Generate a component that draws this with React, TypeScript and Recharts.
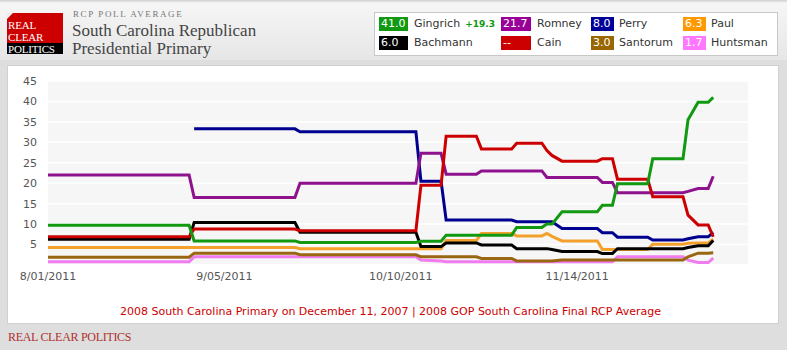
import { LineChart, Line, XAxis, YAxis, CartesianGrid } from 'recharts';

// days since 8/01/2011
const days = [0, 28, 29, 49, 50, 73, 74, 78, 79, 85, 86, 92, 93, 98, 99, 100, 102, 109, 110, 112, 113, 119, 120, 126, 127, 129, 131, 132];

const gingrich = [9.7, 9.7, 5.9, 5.9, 5.5, 5.5, 5.8, 5.8, 7.3, 7.3, 7.3, 7.3, 9.2, 9.2, 10, 10, 13, 13, 14.6, 14.6, 19.9, 19.9, 26, 26, 35.5, 39.8, 39.8, 41];
const romney = [22, 22, 16.5, 16.5, 20, 20, 27.3, 27.3, 22.2, 22.2, 23, 23, 23, 23, 21.4, 21.4, 21.4, 21.4, 20.2, 20.2, 17.7, 17.7, 17.7, 17.7, 18, 18.7, 18.7, 21.7];
const perry = [null, null, 33.3, 33.3, 32.6, 32.6, 20.5, 20.5, 11, 11, 11, 11, 10.6, 10.6, 10.6, 10.6, 8.9, 8.9, 7.9, 7.9, 6.8, 6.8, 6.1, 6.1, 6.4, 6.9, 6.9, 8.0];
const paul = [4.3, 4.3, 4.3, 4.3, 4.0, 4.0, 4.0, 4.0, 6.0, 6.0, 7.7, 7.7, 7.1, 7.1, 7.7, 7.0, 5.9, 5.9, 3.8, 3.8, 3.8, 3.8, 5.1, 5.1, 5.3, 5.4, 5.4, 6.3];
const bachmann = [6.3, 6.3, 10.4, 10.4, 8.0, 8.0, 4.5, 4.5, 5.4, 5.4, 4.9, 4.9, 4.0, 4.0, 4.0, 3.8, 3.3, 3.3, 2.8, 2.8, 4.0, 4.0, 4.0, 4.0, 4.3, 4.7, 4.7, 6.0];
const cain = [6.9, 6.9, 8.8, 8.8, 8.4, 8.4, 19.5, 19.5, 31.5, 31.5, 28.4, 28.4, 29.8, 29.8, 28, 26.8, 25.4, 25.4, 26, 26, 21, 21, 16.7, 16.7, 12.2, 9.8, 9.8, 6.9];
const santorum = [1.9, 1.9, 2.9, 2.9, 2.5, 2.5, 2.0, 2.0, 2.0, 2.0, 1.6, 1.6, 1.0, 1.0, 1.0, 1.0, 1.2, 1.2, 1.2, 1.2, 1.2, 1.2, 1.2, 1.2, 2.0, 2.9, 2.9, 3.0];
const huntsman = [0.8, 0.8, 2.0, 2.0, 2.0, 2.0, 1.2, 1.0, 0.8, 0.8, 0.8, 0.8, 0.8, 0.8, 0.8, 0.8, 0.8, 0.8, 0.8, 0.8, 2.0, 2.0, 2.0, 2.0, 1.2, 0.6, 0.6, 1.7];

const xTicks = [0, 35, 70, 105];
const xLabels = ['8/01/2011', '9/05/2011', '10/10/2011', '11/14/2011'];
const yTicks = [5, 10, 15, 20, 25, 30, 35, 40, 45];

const legendRow1 = [
  { name: 'Gingrich', value: '41.0', color: '#119911', extra: '+19.3' },
  { name: 'Romney', value: '21.7', color: '#990099' },
  { name: 'Perry', value: '8.0', color: '#000099' },
  { name: 'Paul', value: '6.3', color: '#ff9900' },
];
const legendRow2 = [
  { name: 'Bachmann', value: '6.0', color: '#000000' },
  { name: 'Cain', value: '--', color: '#cc0000' },
  { name: 'Santorum', value: '3.0', color: '#996600' },
  { name: 'Huntsman', value: '1.7', color: '#ff77ff' },
];

const series = [
  { key: 'huntsman', color: '#f07cf0' },
  { key: 'santorum', color: '#996611' },
  { key: 'paul', color: '#f3a12c' },
  { key: 'bachmann', color: '#000000' },
  { key: 'perry', color: '#000090' },
  { key: 'romney', color: '#8e128e' },
  { key: 'cain', color: '#cc0000' },
  { key: 'gingrich', color: '#119911' },
];

const chartData = days.map((d, i) => ({
  day: d,
  gingrich: gingrich[i],
  romney: romney[i],
  perry: perry[i],
  paul: paul[i],
  bachmann: bachmann[i],
  cain: cain[i],
  santorum: santorum[i],
  huntsman: huntsman[i],
}));

const chipX = [379, 501, 591, 683];
const chipW = [29, 30, 23, 23];
const nameX = [414, 537, 619, 711];

const LegendRow = ({ items, top }: { items: any[]; top: number }) => (
  <>
    {items.map((it, i) => (
      <div key={it.name}>
        <div
          style={{
            position: 'absolute', left: chipX[i], top, width: chipW[i], height: 14,
            background: it.color, color: '#fff', fontSize: 11, lineHeight: '14px', paddingLeft: 2, boxSizing: 'border-box',
          }}
        >
          {it.value}
        </div>
        <div style={{ position: 'absolute', left: nameX[i], top, fontSize: 11, lineHeight: '14px', color: '#333', whiteSpace: 'nowrap' }}>
          {it.name}
          {it.extra && <span style={{ color: '#119911', fontSize: 9, fontWeight: 'bold', marginLeft: 5 }}>{it.extra}</span>}
        </div>
      </div>
    ))}
  </>
);

const logoText = { position: 'absolute' as const, left: 8, color: '#fff', fontFamily: '"Liberation Serif", serif', fontSize: 11, lineHeight: '10px', letterSpacing: -0.2 };

export default function App() {
  return (
    <div style={{ position: 'absolute', left: 0, top: 0, width: 787, height: 350, background: '#dedede', fontFamily: '"DejaVu Sans", Verdana, sans-serif', overflow: 'hidden' }}>
      {/* header */}
      <div style={{ position: 'absolute', left: 0, top: 0, width: 787, height: 60, background: 'linear-gradient(#cfcfcf 0px, #f6f6f6 3px, #e6e6e6 60px)' }} />
      <div style={{ position: 'absolute', left: 7, top: 13, width: 56, height: 30, background: '#cc0000' }} />
      <div style={{ position: 'absolute', left: 7, top: 13, width: 0, height: 0, borderTop: '6px solid #ececec', borderRight: '6px solid transparent' }} />
      <div style={{ position: 'absolute', left: 7, top: 43, width: 56, height: 11, background: '#000' }} />
      <div style={{ ...logoText, top: 20 }}>REAL</div>
      <div style={{ ...logoText, top: 31.5 }}>CLEAR</div>
      <div style={{ ...logoText, top: 43.5 }}>POLITICS</div>
      <div style={{ position: 'absolute', left: 73, top: 9, color: '#777', fontFamily: '"Liberation Serif", serif', fontSize: 9, letterSpacing: 1.6 }}>RCP POLL AVERAGE</div>
      <div style={{ position: 'absolute', left: 72, top: 22, color: '#444', fontFamily: '"Liberation Serif", serif', fontSize: 17, lineHeight: '17.5px' }}>
        South Carolina Republican<br />Presidential Primary
      </div>

      {/* legend */}
      <div style={{ position: 'absolute', left: 374, top: 12, width: 402, height: 42, background: '#fff', border: '1px solid #c8c8c8' }} />
      <LegendRow items={legendRow1} top={17} />
      <LegendRow items={legendRow2} top={36} />

      {/* panel */}
      <div style={{ position: 'absolute', left: 7, top: 65, width: 770, height: 257, background: '#fff', border: '1px solid #d0d0d0' }} />

      <div style={{ position: 'absolute', left: 0, top: 0 }}>
        <LineChart width={787} height={350} data={chartData} margin={{ top: 81, right: 39, bottom: 0, left: 0 }}>
          <CartesianGrid horizontal vertical={false} stroke="#ffffff" strokeWidth={1.5} fill="#f6f6f6" />
          <XAxis
            dataKey="day"
            type="number"
            domain={[0, 138.9]}
            ticks={xTicks}
            tickFormatter={(v) => xLabels[xTicks.indexOf(v)]}
            axisLine={false}
            tickLine={false}
            tickSize={0}
            tickMargin={7}
            height={85}
            tick={{ fill: '#555', fontSize: 11, fontFamily: '"DejaVu Sans", Verdana, sans-serif' }}
            interval={0}
          />
          <YAxis
            domain={[0, 45]}
            ticks={yTicks}
            axisLine={false}
            tickLine={false}
            tickSize={0}
            tickMargin={11}
            width={48}
            tick={{ fill: '#555', fontSize: 11, fontFamily: '"DejaVu Sans", Verdana, sans-serif' }}
            interval={0}
          />
          {series.map((s) => (
            <Line key={s.key} type="linear" dataKey={s.key} stroke={s.color} strokeWidth={3} dot={false} isAnimationActive={false} connectNulls={false} />
          ))}
        </LineChart>
      </div>

      <div style={{ position: 'absolute', left: 0, width: 781, top: 305, textAlign: 'center', color: '#cc0000', fontSize: 11 }}>
        2008 South Carolina Primary on December 11, 2007 | 2008 GOP South Carolina Final RCP Average
      </div>
      <div style={{ position: 'absolute', left: 8, top: 330, color: '#b03030', fontFamily: '"Liberation Serif", serif', fontSize: 12, letterSpacing: -0.3 }}>
        REAL CLEAR POLITICS
      </div>
    </div>
  );
}
